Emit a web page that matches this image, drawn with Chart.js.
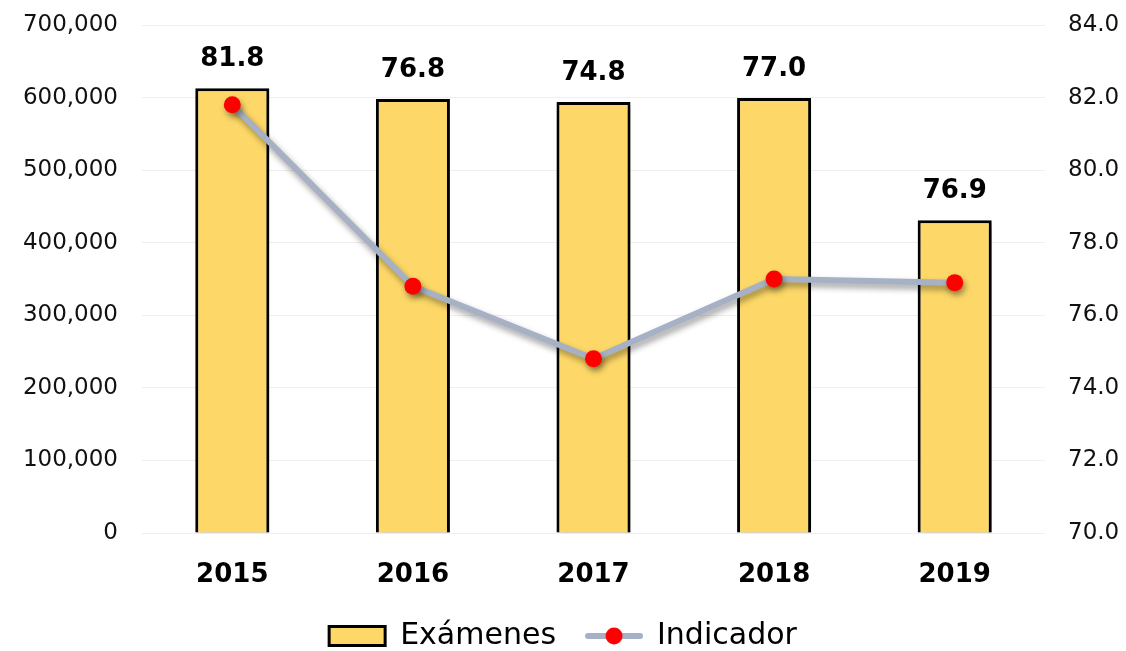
<!DOCTYPE html>
<html lang="es">
<head>
    <meta charset="UTF-8">
    <title>Exámenes e Indicador</title>
    <script src="https://cdn.jsdelivr.net/npm/chart.js"></script>
    <style>
        body { margin: 0; background: #fff; }
        #wrap { width: 1126px; height: 651px; }
    </style>
</head>
<body>
<div id="wrap"><canvas id="myChart"></canvas></div>

<script>
    const years = ['2015', '2016', '2017', '2018', '2019'];
    const examenes = [613000, 598000, 594000, 599500, 431000];
    const indicador = [81.8, 76.8, 74.8, 77.0, 76.9];

    const FONT = "'DejaVu Sans', sans-serif";
    const barFill = '#FDD868';
    const lineColor = '#A7B1C5';

    // little icon for the line entry in the legend
    function lineIcon() {
        const c = document.createElement('canvas');
        c.width = 58; c.height = 20;
        const g = c.getContext('2d');
        g.strokeStyle = lineColor;
        g.lineWidth = 6;
        g.lineCap = 'round';
        g.beginPath(); g.moveTo(3, 10); g.lineTo(55, 10); g.stroke();
        g.fillStyle = '#FF0000';
        g.beginPath(); g.arc(29, 10, 8.5, 0, Math.PI * 2); g.fill();
        return c;
    }
    const icon = lineIcon();

    // soft drop shadow under bars and the line
    const shadowPlugin = {
        id: 'shadow',
        beforeDatasetDraw(chart) {
            const ctx = chart.ctx;
            ctx.save();
            ctx.shadowColor = 'rgba(0,0,0,0.4)';
            ctx.shadowBlur = 6;
            ctx.shadowOffsetX = 2;
            ctx.shadowOffsetY = 4;
        },
        afterDatasetDraw(chart) {
            chart.ctx.restore();
        }
    };

    // indicator values written above each bar
    const labelPlugin = {
        id: 'topLabels',
        afterDatasetsDraw(chart) {
            const ctx = chart.ctx;
            const bars = chart.getDatasetMeta(1).data;
            ctx.save();
            ctx.font = 'bold 26px ' + FONT;
            ctx.fillStyle = '#000';
            ctx.textAlign = 'center';
            ctx.textBaseline = 'middle';
            bars.forEach((bar, i) => {
                ctx.fillText(indicador[i].toFixed(1), bar.x, bar.y - 29);
            });
            ctx.restore();
        }
    };

    function fixY(width) {
        return scale => {
            scale.width = width;
            scale.paddingTop = 0;
            scale.paddingBottom = 0;
        };
    }

    const ctx = document.getElementById('myChart').getContext('2d');
    const myChart = new Chart(ctx, {
        data: {
            labels: years,
            datasets: [{
                type: 'line',
                label: 'Indicador',
                data: indicador,
                yAxisID: 'y1',
                borderColor: lineColor,
                borderWidth: 6,
                pointRadius: 8.5,
                pointHoverRadius: 8.5,
                pointBackgroundColor: '#FF0000',
                pointBorderWidth: 0,
                tension: 0,
                order: 0
            }, {
                type: 'bar',
                label: 'Exámenes',
                data: examenes,
                yAxisID: 'y',
                backgroundColor: barFill,
                borderColor: '#000',
                borderWidth: 3,
                barPercentage: 0.41,
                categoryPercentage: 1,
                order: 1
            }]
        },
        options: {
            responsive: true,
            maintainAspectRatio: false,
            animation: false,
            layout: { padding: { top: 25, left: 0, right: 0, bottom: 0 } },
            scales: {
                x: {
                    grid: { display: false, drawTicks: false },
                    border: { display: false },
                    ticks: { color: '#000', font: { family: FONT, size: 26, weight: 'bold' }, padding: 27 },
                    afterFit(scale) { scale.height = 58; }
                },
                y: {
                    position: 'left',
                    min: 0,
                    max: 700000,
                    grid: { color: '#efefef', drawTicks: false },
                    border: { display: false },
                    ticks: {
                        stepSize: 100000,
                        color: '#111',
                        padding: 24,
                        font: { family: FONT, size: 23 },
                        callback: v => v.toLocaleString('en-US')
                    },
                    afterFit: fixY(142)
                },
                y1: {
                    position: 'right',
                    min: 70,
                    max: 84,
                    grid: { display: false, drawTicks: false },
                    border: { display: false },
                    ticks: {
                        stepSize: 2,
                        color: '#111',
                        padding: 23,
                        font: { family: FONT, size: 23 },
                        callback: v => v.toFixed(1)
                    },
                    afterFit: fixY(81)
                }
            },
            plugins: {
                tooltip: { enabled: false },
                legend: {
                    position: 'bottom',
                    maxHeight: 60,
                    labels: {
                        usePointStyle: true,
                        pointStyleWidth: 56,
                        boxHeight: 19,
                        padding: 30,
                        color: '#000',
                        font: { family: FONT, size: 30 },
                        generateLabels(chart) {
                            return [{
                                text: 'Exámenes', datasetIndex: 1,
                                pointStyle: 'rect', fillStyle: barFill,
                                strokeStyle: '#000', lineWidth: 3
                            }, {
                                text: 'Indicador', datasetIndex: 0,
                                pointStyle: icon, fillStyle: lineColor,
                                strokeStyle: lineColor, lineWidth: 0
                            }];
                        }
                    }
                }
            }
        },
        plugins: [shadowPlugin, labelPlugin]
    });
</script>
</body>
</html>
